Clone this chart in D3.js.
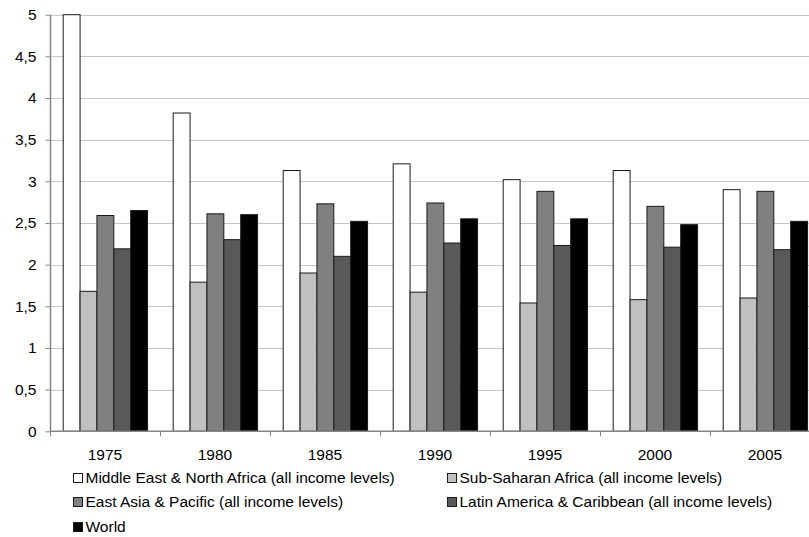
<!DOCTYPE html>
<html>
  <head>
    <script src="https://cdnjs.cloudflare.com/ajax/libs/d3/7.8.5/d3.min.js"></script>
<style>
  body { margin: 0; background: #fff; }
  svg { display: block; font-family: "Liberation Sans", Arial, sans-serif; }
</style>
  </head>
  <body>
    <div id="vis"></div>
    <script type="text/javascript">

      const years = ["1975", "1980", "1985", "1990", "1995", "2000", "2005"];
      const seriesNames = [
        "Middle East & North Africa (all income levels)",
        "Sub-Saharan Africa (all income levels)",
        "East Asia & Pacific (all income levels)",
        "Latin America & Caribbean (all income levels)",
        "World"
      ];
      const mena  = [5.00, 3.82, 3.13, 3.21, 3.02, 3.13, 2.90];
      const ssa   = [1.68, 1.79, 1.90, 1.67, 1.54, 1.58, 1.60];
      const eap   = [2.59, 2.61, 2.73, 2.74, 2.88, 2.70, 2.88];
      const lac   = [2.19, 2.30, 2.10, 2.26, 2.23, 2.21, 2.18];
      const world = [2.65, 2.60, 2.52, 2.55, 2.55, 2.48, 2.52];
      const yTicks = [0, 0.5, 1, 1.5, 2, 2.5, 3, 3.5, 4, 4.5, 5];
      const colors = ["#ffffff", "#c0c0c0", "#808080", "#595959", "#000000"];

      const seriesValues = [mena, ssa, eap, lac, world];
      const w = 809;
      const h = 537;
      const fontSize = 15.5;

      const svg = d3.select("#vis")
          .append("svg")
          .attr("width", w)
          .attr("height", h);

      const x0 = d3.scaleBand().domain(years).range([50, 820]);
      const x1 = d3.scaleBand().domain(d3.range(seriesNames.length))
          .range([x0.bandwidth() * 0.12, x0.bandwidth() * 0.887]);
      const y = d3.scaleLinear().domain([0, 5]).range([431.3, 14.7]);
      const fmt = d => String(d).replace(".", ",");

      // gridlines
      svg.append("g")
          .selectAll("line")
          .data(yTicks.filter(d => d > 0))
          .join("line")
          .attr("x1", 50).attr("x2", w)
          .attr("y1", d => Math.round(y(d)) + 0.5)
          .attr("y2", d => Math.round(y(d)) + 0.5)
          .attr("stroke", "#c6c6c6")
          .attr("stroke-width", 1);

      // bars
      const groups = svg.append("g")
          .selectAll("g")
          .data(years)
          .join("g")
          .attr("transform", d => "translate(" + x0(d) + ",0)");
      groups.selectAll("rect")
          .data((yr, i) => seriesValues.map((vals, s) => ({s: s, v: vals[i]})))
          .join("rect")
          .attr("x", d => x1(d.s))
          .attr("y", d => y(d.v))
          .attr("width", x1.bandwidth())
          .attr("height", d => y(0) - y(d.v))
          .attr("fill", d => colors[d.s])
          .attr("stroke", "#1a1a1a")
          .attr("stroke-width", 1);

      // y axis
      const yAxis = d3.axisLeft(y).tickValues(yTicks).tickFormat(fmt)
          .tickSize(5).tickPadding(9);
      const gy = svg.append("g")
          .attr("transform", "translate(50.5,0)")
          .call(yAxis);
      gy.select(".domain").attr("stroke", "#868686").attr("stroke-width", 1.5)
          .attr("d", "M0," + y(5) + "V" + y(0));
      gy.selectAll(".tick line").attr("stroke", "#868686");
      gy.selectAll(".tick text").attr("font-size", fontSize).attr("fill", "#000")
          .attr("font-family", "Liberation Sans, Arial, sans-serif");

      // x axis
      const gx = svg.append("g").attr("transform", "translate(0," + y(0) + ")");
      gx.append("line")
          .attr("x1", 50).attr("x2", w)
          .attr("stroke", "#868686").attr("stroke-width", 1.5);
      gx.selectAll("line.tk")
          .data(years)
          .join("line")
          .attr("class", "tk")
          .attr("x1", d => Math.round(x0(d)) + 0.5)
          .attr("x2", d => Math.round(x0(d)) + 0.5)
          .attr("y1", 0).attr("y2", 5)
          .attr("stroke", "#868686");
      gx.selectAll("text")
          .data(years)
          .join("text")
          .attr("x", d => x0(d) + x0.bandwidth() / 2)
          .attr("y", 29)
          .attr("text-anchor", "middle")
          .attr("font-size", fontSize)
          .text(d => d);

      // legend
      const legendPos = [[73, 478], [447, 478], [73, 502], [447, 502], [73, 527]];
      const legend = svg.append("g")
          .selectAll("g")
          .data(seriesNames)
          .join("g")
          .attr("transform", (d, i) => "translate(" + legendPos[i][0] + "," + legendPos[i][1] + ")");
      legend.append("rect")
          .attr("x", 0.5).attr("y", -4.5)
          .attr("width", 9).attr("height", 9)
          .attr("fill", (d, i) => colors[i])
          .attr("stroke", "#1a1a1a")
          .attr("stroke-width", 1);
      legend.append("text")
          .attr("x", 12.5)
          .attr("y", 0)
          .attr("dy", "0.35em")
          .attr("font-size", fontSize)
          .text(d => d);

    </script>
  </body>
</html>
